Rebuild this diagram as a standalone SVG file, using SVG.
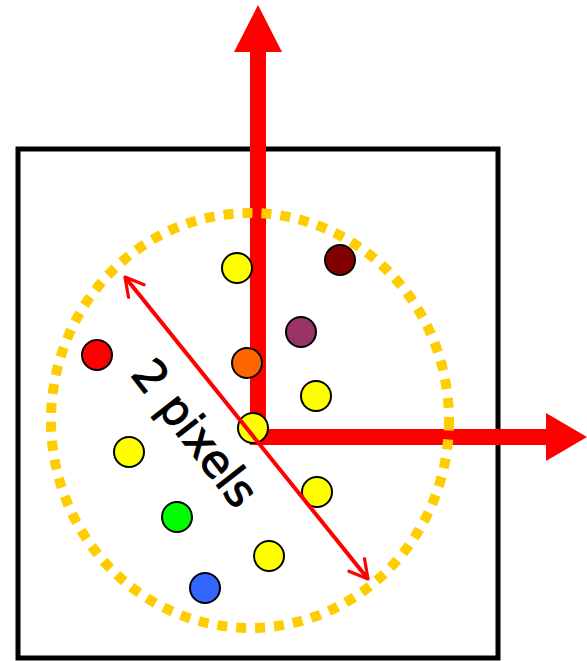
<svg xmlns="http://www.w3.org/2000/svg" width="587" height="661" viewBox="0 0 587 661">
<style>
.dot{stroke:#000;stroke-width:2}
.lbl{font-family:"DejaVu Sans","Liberation Sans",sans-serif;font-size:45px;fill:#000;stroke:#000;stroke-width:1}
</style>
<defs>
<marker id="openArrow" viewBox="0 0 12 12" refX="10" refY="6" markerWidth="6" markerHeight="6" orient="auto-start-reverse" markerUnits="strokeWidth">
<path d="M1,1 L10,6 L1,11" fill="none" stroke="#FF0000" stroke-width="1.6" stroke-linecap="round" stroke-linejoin="round"/>
</marker>
</defs>
<rect id="frame" x="18" y="149" width="480" height="509" fill="none" stroke="#000" stroke-width="5"/>
<g id="axes">
<polyline points="258,52 258,437 546,437" fill="none" stroke="#FF0000" stroke-width="16" stroke-linejoin="miter"/>
<polygon points="258,5 234,52 282,52" fill="#FF0000"/>
<polygon points="587,437 546,413 546,461" fill="#FF0000"/>
</g>
<g id="circle">
<ellipse cx="250" cy="420.5" rx="199" ry="207.5" fill="none" stroke="#FFCC00" stroke-width="10" stroke-dasharray="10 9"/>
</g>
<g id="points">
<circle id="p1" class="dot" cx="237" cy="268" r="15" fill="#FFFF00"/>
<circle id="p2" class="dot" cx="340" cy="260" r="15" fill="#800000"/>
<circle id="p3" class="dot" cx="301" cy="332" r="15" fill="#993366"/>
<circle id="p4" class="dot" cx="97" cy="355" r="15" fill="#FF0000"/>
<circle id="p5" class="dot" cx="247" cy="363" r="15" fill="#FF6600"/>
<circle id="p6" class="dot" cx="316" cy="396" r="15" fill="#FFFF00"/>
<circle id="p7" class="dot" cx="253" cy="428" r="15" fill="#FFFF00"/>
<circle id="p8" class="dot" cx="129" cy="452" r="15" fill="#FFFF00"/>
<circle id="p9" class="dot" cx="317" cy="492" r="15" fill="#FFFF00"/>
<circle id="p10" class="dot" cx="177" cy="517" r="15" fill="#00FF00"/>
<circle id="p11" class="dot" cx="269" cy="556" r="15" fill="#FFFF00"/>
<circle id="p12" class="dot" cx="205" cy="588" r="15" fill="#3366FF"/>
</g>
<g id="connectors">
<line x1="125" y1="277" x2="368" y2="579" stroke="#FF0000" stroke-width="4" marker-start="url(#openArrow)" marker-end="url(#openArrow)"/>
</g>
<text class="lbl" x="0" y="0" text-anchor="middle" dominant-baseline="central" transform="translate(195,433) rotate(52)">2 pixels</text>
</svg>
